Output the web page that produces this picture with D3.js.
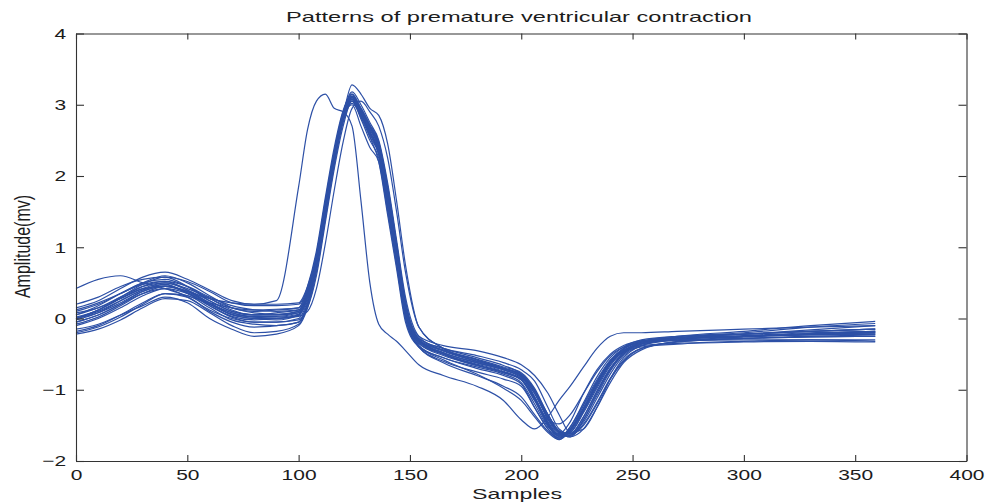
<!DOCTYPE html>
<html>
<head>
<meta charset="utf-8">
<script src="https://cdn.jsdelivr.net/npm/d3@7"></script>
<style>
  body { margin: 0; background: #fff; }
  text { font-family: Arial, "Liberation Sans", sans-serif; fill: #1c1c1c; }
</style>
</head>
<body>
<div class="board"></div>
<script>
const W = 986, H = 503
const margin = { top: 33.5, right: 19.5, bottom: 42, left: 76 }

const LINE_BLUE = "#2d50a6"
const AXIS_GREY = "#333"
const STRETCH = 1.4   // the picture is widened horizontally, text too

const samplePos = [0, 10, 20, 30, 40, 50, 60, 70, 80, 90, 100, 104, 108, 112, 116, 120, 124, 128, 132, 136,
    140, 144, 148, 154, 165, 180, 192, 200, 206, 212, 217, 222, 228, 234, 240, 246, 254, 270, 300, 330, 359]

const beat01 = [0.00, 0.10, 0.25, 0.40, 0.48, 0.35, 0.20, 0.08, 0.03, 0.03, 0.08, 0.35, 0.85, 1.60, 2.30, 2.85, 3.10, 2.88, 2.62, 2.30, 1.60, 0.85, 0.05, -0.35, -0.50, -0.65, -0.75, -0.85, -1.15, -1.50, -1.65, -1.55, -1.25, -0.90, -0.60, -0.42, -0.33, -0.28, -0.25, -0.22, -0.20]
const beat02 = [-0.10, 0.00, 0.15, 0.32, 0.42, 0.30, 0.12, 0.00, -0.05, -0.05, -0.02, 0.15, 0.60, 1.35, 2.10, 2.70, 3.05, 2.95, 2.70, 2.45, 1.85, 1.05, 0.25, -0.30, -0.48, -0.62, -0.72, -0.82, -1.05, -1.42, -1.62, -1.64, -1.50, -1.20, -0.85, -0.60, -0.42, -0.33, -0.28, -0.25, -0.23]
const beat03 = [0.05, 0.18, 0.35, 0.50, 0.55, 0.45, 0.28, 0.15, 0.10, 0.12, 0.15, 0.45, 0.95, 1.70, 2.40, 2.92, 3.15, 2.90, 2.55, 2.20, 1.45, 0.70, -0.05, -0.40, -0.55, -0.70, -0.80, -0.92, -1.25, -1.55, -1.68, -1.52, -1.18, -0.82, -0.55, -0.40, -0.30, -0.25, -0.22, -0.18, -0.15]
const beat04 = [-0.18, -0.10, 0.05, 0.22, 0.35, 0.30, 0.10, -0.05, -0.12, -0.10, -0.05, 0.20, 0.70, 1.45, 2.20, 2.78, 3.02, 2.85, 2.60, 2.35, 1.70, 0.95, 0.15, -0.30, -0.45, -0.60, -0.70, -0.80, -1.10, -1.48, -1.66, -1.58, -1.28, -0.95, -0.63, -0.45, -0.38, -0.35, -0.32, -0.30, -0.30]
const beat05 = [0.02, 0.12, 0.30, 0.48, 0.58, 0.45, 0.25, 0.10, 0.05, 0.05, 0.10, 0.30, 0.75, 1.50, 2.25, 2.85, 3.28, 3.15, 2.95, 2.85, 2.45, 1.65, 0.75, -0.12, -0.42, -0.58, -0.70, -0.80, -1.02, -1.38, -1.60, -1.66, -1.42, -1.05, -0.72, -0.50, -0.36, -0.28, -0.24, -0.20, -0.18]
const beat06 = [-0.05, 0.05, 0.20, 0.38, 0.45, 0.38, 0.22, 0.05, 0.00, -0.02, 0.05, 0.30, 0.85, 1.60, 2.30, 2.82, 3.00, 2.70, 2.40, 2.20, 1.50, 0.75, 0.00, -0.38, -0.55, -0.68, -0.78, -0.90, -1.20, -1.52, -1.62, -1.45, -1.05, -0.72, -0.50, -0.38, -0.31, -0.27, -0.25, -0.23, -0.22]
const beat07 = [0.42, 0.55, 0.60, 0.50, 0.42, 0.32, 0.22, 0.15, 0.12, 0.13, 0.15, 0.40, 0.90, 1.62, 2.30, 2.85, 3.08, 2.85, 2.58, 2.32, 1.62, 0.88, 0.08, -0.32, -0.48, -0.62, -0.72, -0.84, -1.12, -1.48, -1.64, -1.56, -1.26, -0.90, -0.60, -0.42, -0.32, -0.25, -0.18, -0.10, -0.04]
const beat08 = [0.15, 0.25, 0.42, 0.58, 0.65, 0.55, 0.40, 0.25, 0.20, 0.20, 0.22, 0.45, 0.90, 1.65, 2.35, 2.90, 3.12, 2.92, 2.70, 2.45, 1.80, 1.00, 0.20, -0.28, -0.42, -0.55, -0.66, -0.78, -1.00, -1.40, -1.60, -1.62, -1.38, -1.02, -0.70, -0.48, -0.33, -0.26, -0.20, -0.12, -0.07]
const beat09 = [-0.15, -0.08, 0.05, 0.18, 0.30, 0.22, 0.00, -0.15, -0.25, -0.22, -0.10, 0.15, 0.65, 1.40, 2.15, 2.75, 3.05, 2.90, 2.68, 2.40, 1.75, 0.98, 0.18, -0.30, -0.50, -0.66, -0.76, -0.86, -1.12, -1.45, -1.63, -1.60, -1.32, -0.98, -0.66, -0.47, -0.40, -0.36, -0.33, -0.32, -0.33]
const beat10 = [0.08, 0.15, 0.28, 0.42, 0.50, 0.42, 0.28, 0.12, 0.05, 0.08, 0.12, 0.38, 0.88, 1.62, 2.32, 2.88, 3.18, 3.00, 2.75, 2.50, 1.90, 1.10, 0.30, -0.25, -0.45, -0.60, -0.70, -0.80, -1.05, -1.40, -1.60, -1.66, -1.55, -1.25, -0.90, -0.62, -0.44, -0.32, -0.26, -0.22, -0.20]
const beat11 = [-0.20, -0.12, 0.02, 0.20, 0.35, 0.32, 0.15, -0.02, -0.08, -0.10, -0.05, 0.22, 0.72, 1.48, 2.22, 2.80, 3.05, 2.80, 2.50, 2.25, 1.55, 0.78, 0.00, -0.40, -0.60, -0.75, -0.85, -0.95, -1.25, -1.55, -1.70, -1.55, -1.22, -0.88, -0.60, -0.43, -0.33, -0.28, -0.25, -0.22, -0.20]
const beat12 = [0.00, 0.12, 0.28, 0.45, 0.52, 0.40, 0.22, 0.08, 0.02, 0.02, 0.06, 0.30, 0.80, 1.55, 2.28, 2.86, 3.12, 2.95, 2.72, 2.48, 1.85, 1.05, 0.22, -0.25, -0.38, -0.45, -0.55, -0.65, -0.80, -1.05, -1.35, -1.60, -1.55, -1.25, -0.85, -0.55, -0.38, -0.28, -0.22, -0.18, -0.15]
const beat13 = [0.05, 0.15, 0.30, 0.45, 0.50, 0.40, 0.25, 0.10, 0.05, 0.05, 0.08, 0.32, 0.80, 1.55, 2.28, 2.85, 3.10, 2.92, 2.70, 2.45, 1.80, 1.00, 0.18, -0.28, -0.42, -0.52, -0.62, -0.72, -0.88, -1.25, -1.55, -1.62, -1.45, -1.12, -0.78, -0.52, -0.38, -0.30, -0.25, -0.22, -0.18]
const beat14 = [-0.08, 0.02, 0.18, 0.35, 0.45, 0.36, 0.18, 0.02, -0.05, -0.05, 0.00, 0.25, 0.75, 1.50, 2.25, 2.82, 3.05, 2.82, 2.55, 2.30, 1.60, 0.85, 0.05, -0.40, -0.62, -0.80, -0.95, -1.10, -1.35, -1.58, -1.68, -1.52, -1.20, -0.86, -0.58, -0.42, -0.33, -0.28, -0.25, -0.23, -0.22]
const beat15 = [0.10, 0.20, 0.35, 0.48, 0.52, 0.45, 0.30, 0.18, 0.12, 0.10, 0.12, 0.35, 0.82, 1.58, 2.30, 2.87, 3.10, 2.88, 2.62, 2.38, 1.70, 0.92, 0.10, -0.32, -0.48, -0.62, -0.72, -0.82, -1.10, -1.46, -1.65, -1.60, -1.30, -0.95, -0.64, -0.46, -0.35, -0.29, -0.25, -0.21, -0.18]
// the one early beat, peaking near sample 111
const beat16 = [0.00, 0.12, 0.28, 0.42, 0.45, 0.38, 0.28, 0.22, 0.20, 0.25, 1.85, 2.65, 3.05, 3.15, 2.95, 2.90, 2.70, 1.65, 0.50, -0.08, -0.22, -0.32, -0.45, -0.65, -0.80, -0.95, -1.15, -1.42, -1.55, -1.38, -1.15, -0.95, -0.68, -0.42, -0.25, -0.20, -0.20, -0.18, -0.15, -0.12, -0.10]
const beat17 = [0.00, 0.08, 0.22, 0.38, 0.46, 0.38, 0.20, 0.06, 0.00, 0.00, 0.03, 0.10, 0.42, 1.05, 1.80, 2.48, 2.95, 3.05, 2.90, 2.70, 2.25, 1.50, 0.65, -0.12, -0.42, -0.58, -0.70, -0.80, -1.02, -1.35, -1.58, -1.64, -1.48, -1.18, -0.84, -0.58, -0.42, -0.33, -0.28, -0.26, -0.25]
const beat18 = [-0.22, -0.15, -0.02, 0.15, 0.28, 0.25, 0.08, -0.10, -0.20, -0.18, -0.08, 0.18, 0.70, 1.45, 2.20, 2.80, 3.08, 2.88, 2.65, 2.40, 1.72, 0.95, 0.12, -0.35, -0.52, -0.66, -0.76, -0.86, -1.12, -1.50, -1.68, -1.58, -1.28, -0.92, -0.62, -0.45, -0.35, -0.31, -0.30, -0.30, -0.32]
const beat19 = [0.12, 0.22, 0.35, 0.50, 0.60, 0.50, 0.32, 0.15, 0.08, 0.06, 0.10, 0.38, 0.88, 1.62, 2.32, 2.88, 3.15, 2.95, 2.68, 2.42, 1.75, 0.95, 0.12, -0.30, -0.46, -0.60, -0.70, -0.78, -1.00, -1.35, -1.58, -1.62, -1.38, -1.02, -0.70, -0.48, -0.35, -0.27, -0.22, -0.18, -0.15]
const beat20 = [-0.02, 0.08, 0.25, 0.40, 0.48, 0.36, 0.20, 0.06, 0.02, 0.00, 0.05, 0.32, 0.82, 1.58, 2.28, 2.85, 3.08, 2.86, 2.60, 2.35, 1.65, 0.90, 0.08, -0.33, -0.50, -0.64, -0.74, -0.86, -1.15, -1.42, -1.48, -1.35, -1.05, -0.75, -0.52, -0.40, -0.32, -0.28, -0.25, -0.22, -0.20]
const beat21 = [0.20, 0.30, 0.45, 0.55, 0.58, 0.52, 0.38, 0.22, 0.18, 0.18, 0.20, 0.42, 0.90, 1.62, 2.33, 2.88, 3.12, 2.90, 2.65, 2.40, 1.72, 0.95, 0.15, -0.30, -0.44, -0.57, -0.68, -0.76, -0.98, -1.35, -1.58, -1.64, -1.42, -1.08, -0.74, -0.50, -0.36, -0.28, -0.22, -0.16, -0.10]
const beat22 = [-0.05, 0.05, 0.20, 0.35, 0.42, 0.35, 0.18, 0.03, -0.02, 0.00, 0.04, 0.28, 0.78, 1.52, 2.25, 2.82, 3.05, 2.85, 2.60, 2.35, 1.65, 0.88, 0.05, -0.38, -0.58, -0.78, -0.98, -1.15, -1.38, -1.60, -1.70, -1.58, -1.28, -0.92, -0.62, -0.45, -0.35, -0.30, -0.28, -0.26, -0.25]

const beats = [beat01, beat02, beat03, beat04, beat05, beat06, beat07, beat08, beat09, beat10, beat11,
    beat12, beat13, beat14, beat15, beat16, beat17, beat18, beat19, beat20, beat21, beat22]

const xTicks = [0, 50, 100, 150, 200, 250, 300, 350, 400]
const yTicks = [-2, -1, 0, 1, 2, 3, 4]

const titleText = "Patterns of premature ventricular contraction"
const xLabel = "Samples"
const yLabel = "Amplitude(mv)"

const svg = d3.select(".board")
    .append("svg")
    .attr("width", W)
    .attr("height", H)

let x = d3.scaleLinear()
    .domain([0, 400])
    .range([margin.left, W - margin.right])

let y = d3.scaleLinear()
    .domain([-2, 4])
    .range([H - margin.bottom, margin.top])

let line = d3.line()
    .x(d => x(d[0]))
    .y(d => y(d[1]))
    .curve(d3.curveMonotoneX)

svg.append("g")
    .selectAll("path")
    .data(beats)
    .enter()
    .append("path")
    .attr("fill", "none")
    .attr("stroke", LINE_BLUE)
    .attr("stroke-width", 1.2)
    .attr("d", vals => line(samplePos.map((s, i) => [s, vals[i]])))

// axes, ticks pointing inward like the matlab box
function styleAxis(g) {
    g.selectAll("path, line").attr("stroke", AXIS_GREY).attr("stroke-width", 1.1)
    g.selectAll("text")
        .attr("fill", "#1c1c1c")
        .style("font-size", "15px")
        .style("font-family", "Arial, 'Liberation Sans', sans-serif")
}

const intFmt = d3.format("d")

svg.append("g")
    .attr("transform", `translate(0, ${y(-2)})`)
    .call(d3.axisBottom(x).tickValues(xTicks).tickFormat(intFmt).tickSizeInner(-6).tickSizeOuter(0).tickPadding(8))
    .call(styleAxis)
    .call(g => g.selectAll("text").attr("transform", `scale(${STRETCH},1)`))

svg.append("g")
    .attr("transform", `translate(0, ${y(4)})`)
    .call(d3.axisTop(x).tickValues(xTicks).tickSizeInner(-6).tickSizeOuter(0).tickFormat(""))
    .call(styleAxis)

svg.append("g")
    .attr("transform", `translate(${x(0)}, 0)`)
    .call(d3.axisLeft(y).tickValues(yTicks).tickFormat(intFmt).tickSizeInner(-8).tickSizeOuter(0).tickPadding(7))
    .call(styleAxis)
    .call(g => g.selectAll("text").attr("transform", `scale(${STRETCH},1)`))

svg.append("g")
    .attr("transform", `translate(${x(400)}, 0)`)
    .call(d3.axisRight(y).tickValues(yTicks).tickSizeInner(-8).tickSizeOuter(0).tickFormat(""))
    .call(styleAxis)

svg.append("text")
    .text(titleText)
    .attr("x", 519)
    .attr("y", 22)
    .attr("text-anchor", "middle")
    .attr("textLength", 466)
    .attr("lengthAdjust", "spacingAndGlyphs")
    .style("font-size", "15px")

svg.append("text")
    .text(xLabel)
    .attr("x", 517)
    .attr("y", 499)
    .attr("text-anchor", "middle")
    .attr("textLength", 90)
    .attr("lengthAdjust", "spacingAndGlyphs")
    .style("font-size", "15px")

svg.append("text")
    .text(yLabel)
    .attr("transform", `translate(30, 246.5) scale(${STRETCH},1) rotate(-90)`)
    .attr("text-anchor", "middle")
    .style("font-size", "16px")
</script>
</body>
</html>
